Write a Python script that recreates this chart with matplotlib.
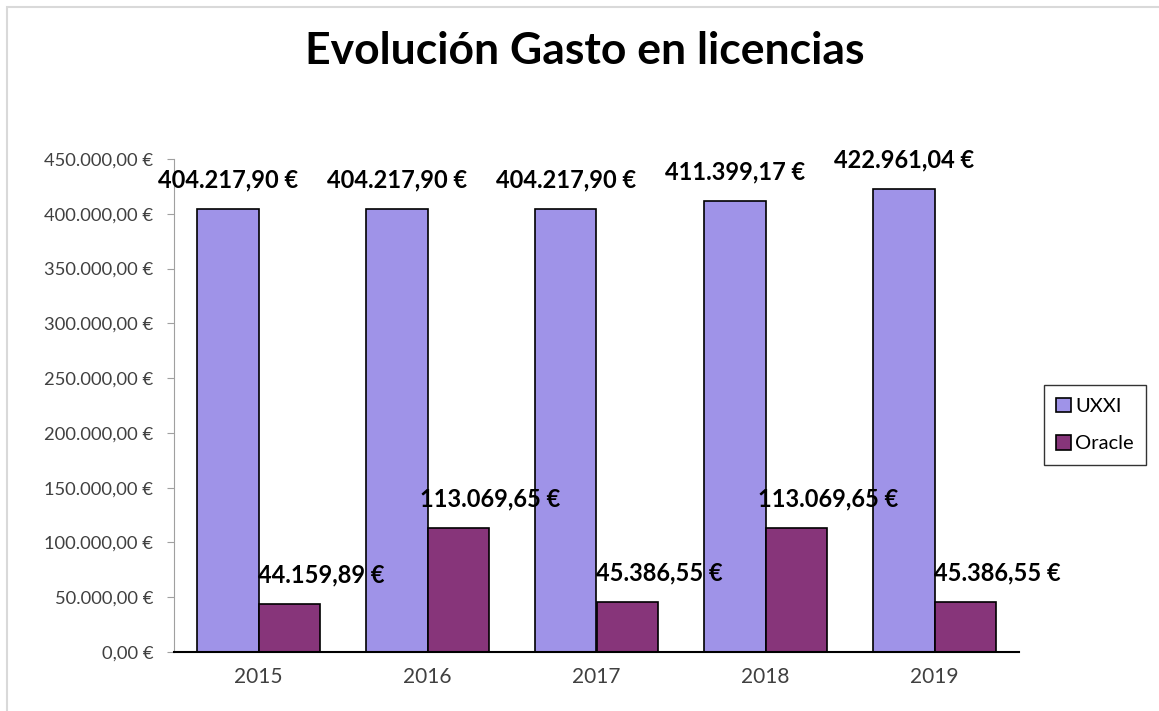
import matplotlib
matplotlib.use("Agg")
import matplotlib.pyplot as plt
from matplotlib.patches import Rectangle
import numpy as np

# datos del gráfico
years = ["2015", "2016", "2017", "2018", "2019"]
uxxi = [404217.90, 404217.90, 404217.90, 411399.17, 422961.04]
oracle = [44159.89, 113069.65, 45386.55, 113069.65, 45386.55]
yticks = [0, 50000, 100000, 150000, 200000, 250000, 300000, 350000, 400000, 450000]

plt.rcParams['font.family'] = ['Lato', 'DejaVu Sans']


def euro(v):
    # formato español: 404.217,90 €
    s = f"{v:,.2f}".replace(",", "X").replace(".", ",").replace("X", ".")
    return s + " €"


W, H = 1159, 711
fig = plt.figure(figsize=(W / 100, H / 100), dpi=100)

# marco gris claro del área del gráfico
fig.patches.append(Rectangle((7 / W, -0.1), 1.2, 1 - 7 / H + 0.1, transform=fig.transFigure,
                             fill=False, edgecolor="#d9d9d9", linewidth=1.5))

ax = fig.add_axes([174 / W, 1 - 652 / H, 845 / W, (652 - 159) / H])

x = np.arange(len(years))
bw = 0.365
b1 = ax.bar(x - bw / 2, uxxi, bw, color="#9f93e8", edgecolor="black", linewidth=1.2, label="UXXI", zorder=2)
b2 = ax.bar(x + bw / 2, oracle, bw, color="#87357a", edgecolor="black", linewidth=1.2, label="Oracle", zorder=2)

for xi, v in zip(x, uxxi):
    ax.annotate(euro(v), (xi - bw / 2, v), xytext=(0, 21), textcoords="offset points",
                ha="center", va="center", fontsize=17, fontweight="bold", zorder=3)
for xi, v in zip(x, oracle):
    ax.annotate(euro(v), (xi + bw / 2, v), xytext=(23, 21), textcoords="offset points",
                ha="center", va="center", fontsize=17, fontweight="bold", zorder=3)

ax.set_xlim(-0.5, len(years) - 0.5)
ax.set_ylim(0, 450000)
ax.set_yticks(yticks)
ax.set_yticklabels([euro(t) for t in yticks], fontsize=13.2, color="#404040")
ax.set_xticks(x)
ax.set_xticklabels(years, fontsize=15, color="#404040")
ax.tick_params(axis="x", length=0, pad=11)
ax.tick_params(axis="y", length=5, color="#a0a0a0", pad=10)

ax.spines["top"].set_visible(False)
ax.spines["right"].set_visible(False)
ax.spines["left"].set_color("#a0a0a0")
ax.spines["bottom"].set_color("black")
ax.spines["bottom"].set_linewidth(1.5)

fig.text(585 / W, 1 - 51 / H, "Evolución Gasto en licencias", ha="center", va="center",
         fontsize=32, fontweight="bold")

leg = fig.legend(handles=[b1, b2], loc="center", bbox_to_anchor=(1095 / W, 1 - 425 / H),
                 fontsize=14.5, frameon=True, fancybox=False, edgecolor="black",
                 handlelength=0.75, handleheight=0.75, handletextpad=0.2, labelspacing=1.0,
                 borderpad=0.6, borderaxespad=0)
leg.get_frame().set_linewidth(1.0)

fig.savefig("out.png", dpi=100)
